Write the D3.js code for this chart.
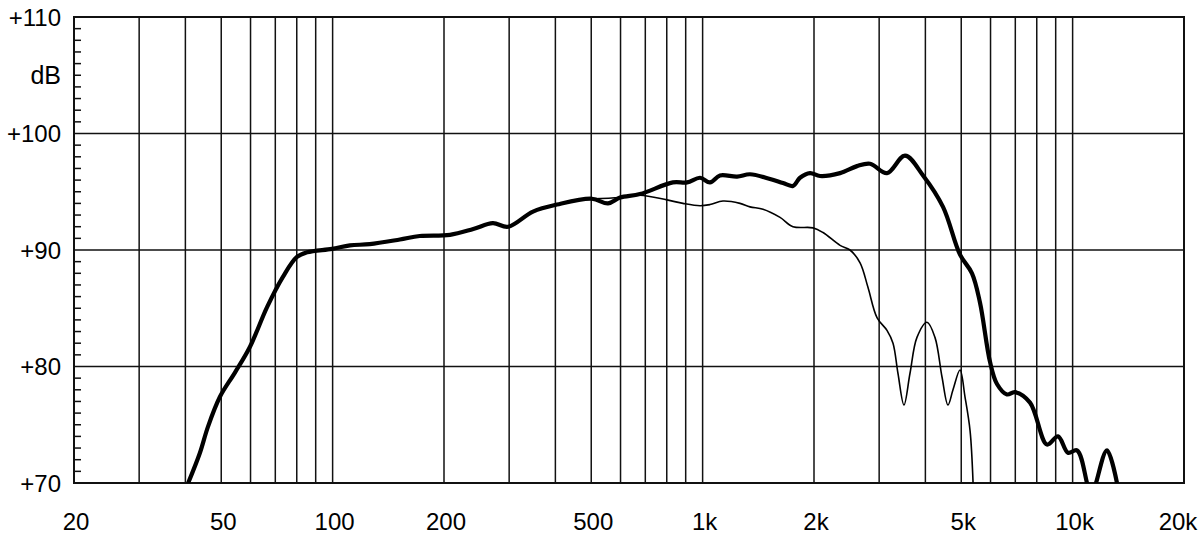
<!DOCTYPE html>
<html><head><meta charset="utf-8">
<script src="https://cdn.jsdelivr.net/npm/d3@7"></script>
<style>html,body{margin:0;padding:0;background:#fff;}svg{display:block;}</style>
</head><body><svg id="c" width="1200" height="540"></svg>
<script>
// Frequencies (Hz) and levels (dB)
const onAxisFreq = [40.7,43.8,46.0,49.6,54.5,59.8,66.5,73.4,80.1,85.3,99.6,111.4,126,152,172,207.6,240,271,298,348,404,502,555,598,677,831,908,984,1047,1114,1239,1343,1521,1649,1755,1833,1951,2076,2352,2614,2835,3150,3524,3942,4464,4962,5346,5618,5980,6246,6646,6986,7672,8528,9130,9716,10276,10936,11212,11568,12388,13180];
const onAxisDb   = [70.0,72.6,74.8,77.4,79.5,81.7,85.1,87.7,89.4,89.8,90.1,90.4,90.5,90.9,91.2,91.3,91.8,92.3,92.0,93.3,93.9,94.4,94.0,94.5,94.8,95.8,95.8,96.2,95.8,96.4,96.3,96.5,96.1,95.75,95.5,96.2,96.6,96.35,96.6,97.2,97.4,96.6,98.1,96.4,93.7,89.6,88.0,85.5,80.4,78.5,77.6,77.8,76.9,73.3,74.0,72.6,72.8,70.0,68.5,70.0,72.8,70.0];
const offAxisFreq = [502,598,677,801,885,984,1047,1135,1262,1343,1456,1619,1755,1988,2116,2352,2502,2664,2798,2960,3150,3270,3373,3501,3634,3796,4040,4246,4436,4604,4750,4962,5118,5282,5382];
const offAxisDb   = [94.4,94.5,94.7,94.3,94.0,93.8,93.9,94.2,94.0,93.7,93.5,92.8,92.0,91.9,91.5,90.4,90.0,88.9,86.8,84.2,83.1,82.0,79.4,76.7,79.4,82.5,83.8,82.5,79.1,76.7,78.0,79.7,77.4,74.5,70.0];
const xTickValues = [20,50,100,200,500,1000,2000,5000,10000,20000];
const xTickLabels = ["20","50","100","200","500","1k","2k","5k","10k","20k"];
const xGridValues = [30,40,50,60,70,80,90,100,200,300,400,500,600,700,800,900,1000,2000,3000,4000,5000,6000,7000,8000,9000,10000];
const yTickValues = [70,80,90,100,110];
const yTickLabels = ["+70","+80","+90","+100","+110"];
const yGridValues = [80,90,100];
const yUnit = "dB";

const L=74,R=1184,T=17,B=483;
const svg=d3.select("#c");
const x=d3.scaleLog().domain([20,20000]).range([L,R]);
const y=d3.scaleLinear().domain([70,110]).range([B,T]);
const font="Arial, 'Liberation Sans', Helvetica, sans-serif";

svg.append("defs").append("clipPath").attr("id","clip")
  .append("rect").attr("x",L).attr("y",T).attr("width",R-L).attr("height",B-T);

// vertical grid
svg.append("g").selectAll("line").data(xGridValues).join("line")
  .attr("x1",d=>x(d)).attr("x2",d=>x(d)).attr("y1",T).attr("y2",B)
  .attr("stroke","#111").attr("stroke-width",1.5);
// horizontal grid
svg.append("g").selectAll("line").data(yGridValues).join("line")
  .attr("x1",L).attr("x2",R).attr("y1",d=>y(d)).attr("y2",d=>y(d))
  .attr("stroke","#111").attr("stroke-width",1.5);
// minor y ticks
const minor=d3.range(71,110).filter(v=>v%10!==0);
svg.append("g").selectAll("line").data(minor).join("line")
  .attr("x1",L).attr("x2",L+7).attr("y1",d=>y(d)).attr("y2",d=>y(d))
  .attr("stroke","#111").attr("stroke-width",1.5);
// frame
svg.append("rect").attr("x",L).attr("y",T).attr("width",R-L).attr("height",B-T)
  .attr("fill","none").attr("stroke","#111").attr("stroke-width",2);

// curves
const line=(fs,ds)=>d3.line().x(i=>x(fs[i])).y(i=>y(ds[i])).curve(d3.curveCatmullRom.alpha(0.5))(d3.range(fs.length));
const g=svg.append("g").attr("clip-path","url(#clip)");
g.append("path").attr("d",line(offAxisFreq,offAxisDb)).attr("fill","none").attr("stroke","#000").attr("stroke-width",1.6);
g.append("path").attr("d",line(onAxisFreq,onAxisDb)).attr("fill","none").attr("stroke","#000").attr("stroke-width",4.2).attr("stroke-linejoin","round");

// y labels
svg.append("g").selectAll("text").data(yTickValues).join("text")
  .attr("x",61).attr("y",d=>y(d)).attr("dy","0.36em").attr("text-anchor","end")
  .attr("font-family",font).attr("font-size",24).attr("fill","#000")
  .text((d,i)=>yTickLabels[i]);
svg.append("text").attr("x",61).attr("y",y(105)).attr("dy","0.36em").attr("text-anchor","end")
  .attr("font-family",font).attr("font-size",25).text(yUnit);
// x labels
svg.append("g").selectAll("text").data(xTickValues).join("text")
  .attr("x",(d,i)=>x(d)+(i===xTickValues.length-1?-6:2)).attr("y",530).attr("text-anchor","middle")
  .attr("font-family",font).attr("font-size",24).attr("fill","#000")
  .text((d,i)=>xTickLabels[i]);
</script></body></html>
